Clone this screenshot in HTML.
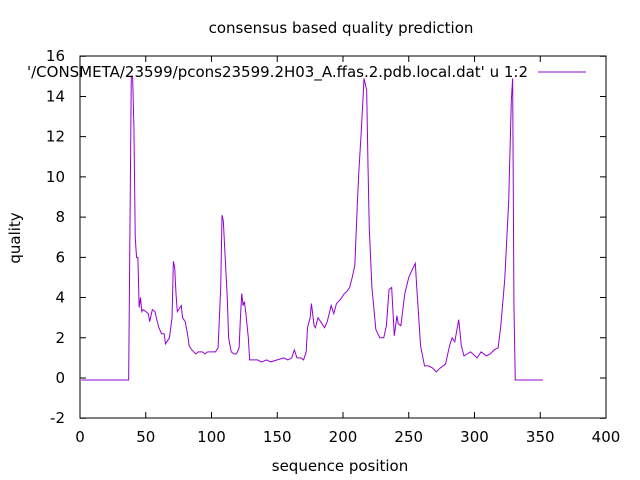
<!DOCTYPE html>
<html><head><meta charset="utf-8"><style>
body{margin:0;background:#fff;}
svg{display:block;font-family:"DejaVu Sans","Liberation Sans",sans-serif;}
</style></head><body>
<svg id="chart" width="640" height="480" xmlns="http://www.w3.org/2000/svg">
<text x="341" y="33" font-size="15" text-anchor="middle">consensus based quality prediction</text>
<text x="20" y="238" font-size="15" text-anchor="middle" transform="rotate(-90 20 238)">quality</text>
<text x="340" y="471" font-size="15" text-anchor="middle">sequence position</text>
<g id="axes"></g>
<g id="series"></g>
<rect x="80" y="56" width="526" height="362" fill="none" stroke="#000" stroke-width="1"/>
<text x="528" y="77" font-size="15" text-anchor="end">'/CONSMETA/23599/pcons23599.2H03_A.ffas.2.pdb.local.dat' u 1:2</text>
<line x1="538" y1="72" x2="586" y2="72" stroke="#9400d3" stroke-width="1"/>
</svg>
<script>
const xTicks=[0,50,100,150,200,250,300,350,400];
const yTicks=[-2,0,2,4,6,8,10,12,14,16];
const xs=[1,37,38,39,40,41,42,43,44,45,
46,47,48,50,52,53,55,57,58,60,
62,64,65,67,68,70,71,72,73,74,
75,77,78,80,82,83,85,88,90,93,
95,97,100,103,105,107,108,109,110,112,
113,115,117,119,121,122,123,124,125,126,
128,129,132,135,138,142,145,150,155,158,
161,163,165,168,170,172,173,175,176,178,
179,181,183,186,188,191,193,195,198,201,
203,205,207,209,211,212,214,216,218,219,
220,222,225,228,231,233,235,237,239,241,
242,244,247,250,252,255,256,259,262,265,
268,271,274,278,281,283,285,288,290,292,
297,302,305,309,312,315,318,320,323,326,
328,329,330,331,352];
const ys=[-0.1,-0.1,7.5,15,15,12.5,7,6,6,3.5,
4,3.3,3.4,3.3,3.2,2.8,3.4,3.3,3,2.5,
2.2,2.2,1.7,1.9,2,3,5.8,5.5,4.2,3.3,
3.4,3.6,3,2.8,2.1,1.6,1.4,1.2,1.3,1.3,
1.2,1.3,1.3,1.3,1.5,4.5,8.1,7.8,6.5,4,
2,1.3,1.2,1.2,1.5,3,4.2,3.6,3.8,3.3,
2,0.9,0.9,0.9,0.8,0.9,0.8,0.9,1,0.9,
1,1.4,1,1,0.9,1.3,2.5,3,3.7,2.6,
2.5,3,2.8,2.5,2.8,3.6,3.2,3.7,3.9,4.2,
4.3,4.5,5,5.6,8.8,10.2,12.4,14.9,14.3,10.6,
7.4,4.5,2.4,2,2,2.6,4.4,4.5,2.1,3.1,
2.7,2.6,4.2,5,5.3,5.7,4.6,1.6,0.6,0.6,
0.5,0.3,0.5,0.7,1.6,2,1.8,2.9,1.6,1.1,
1.3,1,1.3,1.1,1.2,1.4,1.5,2.6,4.9,8.8,
13.8,14.9,3.6,-0.1,-0.1];
const X=v=>80+v*526/400;
const Y=v=>378-v*362/18;
const ns="http://www.w3.org/2000/svg";
const axes=document.getElementById('axes');
xTicks.forEach(t=>{
  const l=document.createElementNS(ns,'path');
  
  
  l.setAttribute('d',`M${X(t)},418v-6M${X(t)},56v6`);l.setAttribute('stroke','#000');axes.appendChild(l);
  const tx=document.createElementNS(ns,'text');
  
  
  tx.setAttribute('x',X(t));tx.setAttribute('y',442);tx.setAttribute('font-size','15');tx.setAttribute('text-anchor','middle');tx.textContent=t;axes.appendChild(tx);
});
yTicks.forEach(t=>{
  const l=document.createElementNS(ns,'path');
  
  
  l.setAttribute('d',`M80,${Y(t)}h6M606,${Y(t)}h-6`);l.setAttribute('stroke','#000');axes.appendChild(l);
  const tx=document.createElementNS(ns,'text');
  
  
  tx.setAttribute('x',65);tx.setAttribute('y',Y(t)+5);tx.setAttribute('font-size','15');tx.setAttribute('text-anchor','end');tx.textContent=t;axes.appendChild(tx);
});
const p=document.createElementNS(ns,'polyline');


p.setAttribute('points',xs.map((x,i)=>X(x)+','+Y(ys[i])).join(' '));
p.setAttribute('fill','none');p.setAttribute('stroke','#9400d3');p.setAttribute('stroke-width','1');
document.getElementById('series').appendChild(p);
</script>
</body></html>
